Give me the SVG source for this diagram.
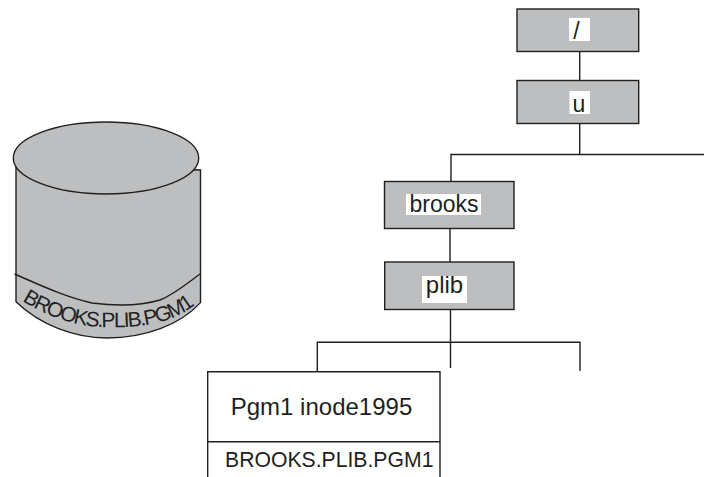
<svg xmlns="http://www.w3.org/2000/svg" width="704" height="477" viewBox="0 0 704 477">
<style>
text{font-family:"Liberation Sans",Arial,sans-serif;fill:#231f20}
.b{fill:#bcbec0;stroke:#231f20;stroke-width:1.4}
.l{fill:none;stroke:#231f20;stroke-width:1.4}
.w{fill:#fff}
.t{font-size:23px;text-anchor:middle}
</style>
<defs><path id="arc" d="M22 301 C50 318 80 328 110 327 C145 328 178 322 200 300"/></defs>
<rect width="704" height="477" fill="#fff"/>
<g id="cylinder">
<path class="b" d="M16 165 V301.700 C40 325 75 338 107 338 C145 338 180 325 200.500 302.600 V170 Z"/>
<ellipse class="b" cx="106" cy="158" rx="92.700" ry="36"/>
<path class="l" d="M14.500 274 C40 285 65 297 92 303 C115 306 140 306 160 300 C175 294 190 281 200 274"/>
<text font-size="21" letter-spacing="-1.6"><textPath href="#arc">BROOKS.PLIB.PGM1</textPath></text>
</g>
<g id="connectors" class="l">
<path class="l" d="M579.700 51.500 V80.500 M579.700 123.500 V154.500 M451 181.500 V154.500 H704 M450 228.500 V262 M450.500 309.500 V342.300 M317.300 371.700 V342.300 H580 V371 M450.500 342.300 V368"/>
</g>
<g id="node-root"><rect class="b" x="517" y="9" width="121.700" height="42.500"/><rect class="w" x="569" y="18" width="21" height="23"/><text class="t" x="576.500" y="39">/</text></g>
<g id="node-u"><rect class="b" x="517" y="80.500" width="121.700" height="43"/><rect class="w" x="569.500" y="91" width="20.500" height="23"/><text class="t" x="579" y="111.500">u</text></g>
<g id="node-brooks"><rect class="b" x="384.500" y="181.500" width="129.500" height="47"/><rect class="w" x="406" y="194" width="75" height="21"/><text class="t" x="444" y="211.500">brooks</text></g>
<g id="node-plib"><rect class="b" x="384.700" y="262" width="129.300" height="47.500"/><rect class="w" x="422" y="276" width="45" height="27"/><text class="t" x="444.500" y="293" style="font-size:24px">plib</text></g>
<g id="node-pgm1">
<path class="l" d="M207.700 477 V371.700 H440 V477 M207.700 441.700 H440"/>
<text class="t" x="321.500" y="415" style="font-size:24px">Pgm1 inode1995</text>
<text x="225" y="467" font-size="21.200">BROOKS.PLIB.PGM1</text>
</g>
</svg>
